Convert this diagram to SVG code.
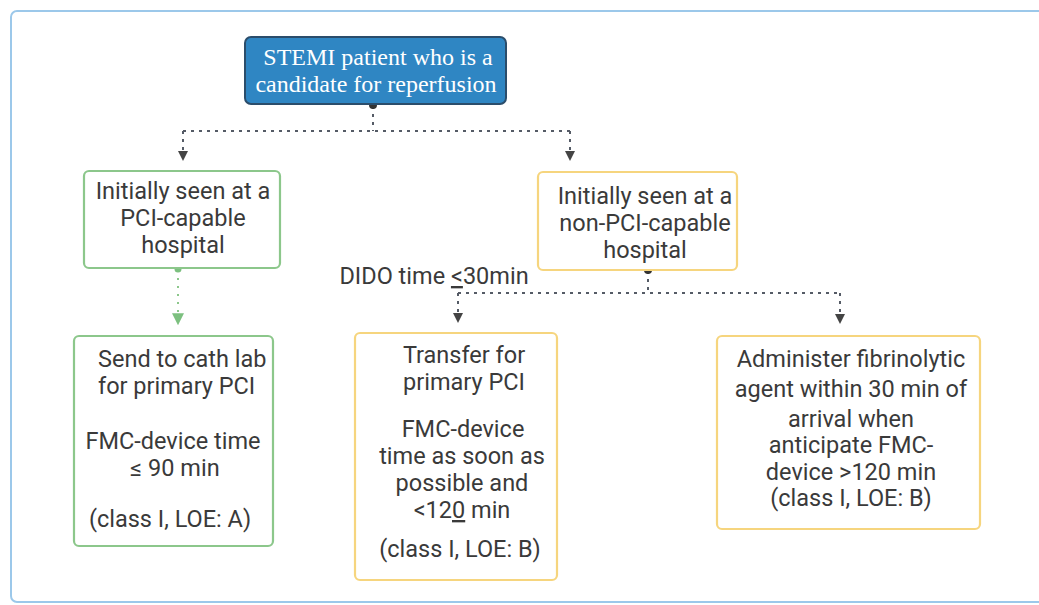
<svg xmlns="http://www.w3.org/2000/svg" width="1039" height="605" viewBox="0 0 1039 605">
<style>
.t{font-family:Roboto,"Liberation Sans",sans-serif;font-size:23.5px;fill:#3a3a3a;text-anchor:middle}
.s{font-family:"Liberation Serif",serif;font-size:24px;fill:#fff;text-anchor:middle}
.g{fill:#fff;stroke:#8cc78b;stroke-width:2.2}
.y{fill:#fff;stroke:#f6d57e;stroke-width:2.2}
.c{fill:none;stroke:#555b66;stroke-width:2;stroke-dasharray:3 5}
.cg{fill:none;stroke:#8cc78b;stroke-width:2;stroke-dasharray:2 6}
</style>
<defs>
<marker id="a" viewBox="0 0 10 10" refX="9" refY="5" markerWidth="5" markerHeight="5" orient="auto"><path d="M0,0L10,5L0,10z" fill="#444"/></marker>
<marker id="ag" viewBox="0 0 10 10" refX="9" refY="5" markerWidth="6" markerHeight="6" orient="auto"><path d="M0,0L10,5L0,10z" fill="#7cc07f"/></marker>
</defs>
<rect x="0" y="0" width="1039" height="605" fill="#fff"/>
<rect x="11" y="11" width="1040" height="591" rx="6" fill="#fff" stroke="#9cc8ea" stroke-width="2"/>
<g id="connectors">
<path class="c" d="M373,106V131M183,131H570"/>
<path class="c" d="M183,131V160" marker-end="url(#a)"/>
<path class="c" d="M570,131V160" marker-end="url(#a)"/>
<circle cx="373" cy="105" r="4" fill="#333"/>
<path class="cg" d="M178,270V324" marker-end="url(#ag)"/>
<circle cx="178" cy="269" r="3.5" fill="#7cc07f"/>
<path class="c" d="M648,271V293M458,293H840"/>
<path class="c" d="M458,293V322" marker-end="url(#a)"/>
<path class="c" d="M840,293V323" marker-end="url(#a)"/>
<circle cx="648" cy="270" r="4" fill="#333"/>
<text class="t" x="434" y="284">DIDO time <tspan text-decoration="underline">&lt;</tspan>30min</text>
</g>
<g id="start">
<rect x="245" y="37" width="261" height="67" rx="6" fill="#2f86c3" stroke="#2b4d6b" stroke-width="2"/>
<text class="s" x="378" y="65">STEMI patient who is a</text>
<text class="s" x="376" y="92">candidate for reperfusion</text>
</g>
<g id="pci">
<rect class="g" x="84" y="171" width="196" height="97" rx="5"/>
<text class="t" x="183" y="199">Initially seen at a</text>
<text class="t" x="183" y="226">PCI-capable</text>
<text class="t" x="183" y="253">hospital</text>
</g>
<g id="nonpci">
<rect class="y" x="538" y="172" width="199" height="98" rx="5"/>
<text class="t" x="645" y="204">Initially seen at a</text>
<text class="t" x="645" y="231">non-PCI-capable</text>
<text class="t" x="645" y="258">hospital</text>
</g>
<g id="cathlab">
<rect class="g" x="74" y="336" width="199" height="210" rx="5"/>
<text class="t" x="98" y="367" style="text-anchor:start">Send to cath lab</text>
<text class="t" x="98" y="394" style="text-anchor:start">for primary PCI</text>
<text class="t" x="173" y="449">FMC-device time</text>
<text class="t" x="175" y="476">≤ 90 min</text>
<text class="t" x="170" y="527">(class I, LOE: A)</text>
</g>
<g id="transfer">
<rect class="y" x="355" y="333" width="202" height="247" rx="5"/>
<text class="t" x="464" y="363">Transfer for</text>
<text class="t" x="464" y="390">primary PCI</text>
<text class="t" x="463" y="437">FMC-device</text>
<text class="t" x="462" y="464">time as soon as</text>
<text class="t" x="462" y="491">possible and</text>
<text class="t" x="462" y="518">&lt;12<tspan text-decoration="underline">0</tspan> min</text>
<text class="t" x="460" y="557">(class I, LOE: B)</text>
</g>
<g id="fibrinolytic">
<rect class="y" x="717" y="336" width="263" height="193" rx="5"/>
<text class="t" x="851" y="367">Administer fibrinolytic</text>
<text class="t" x="851" y="397">agent within 30 min of</text>
<text class="t" x="851" y="427">arrival when</text>
<text class="t" x="851" y="453">anticipate FMC-</text>
<text class="t" x="851" y="480">device &gt;120 min</text>
<text class="t" x="851" y="506">(class I, LOE: B)</text>
</g>
</svg>
